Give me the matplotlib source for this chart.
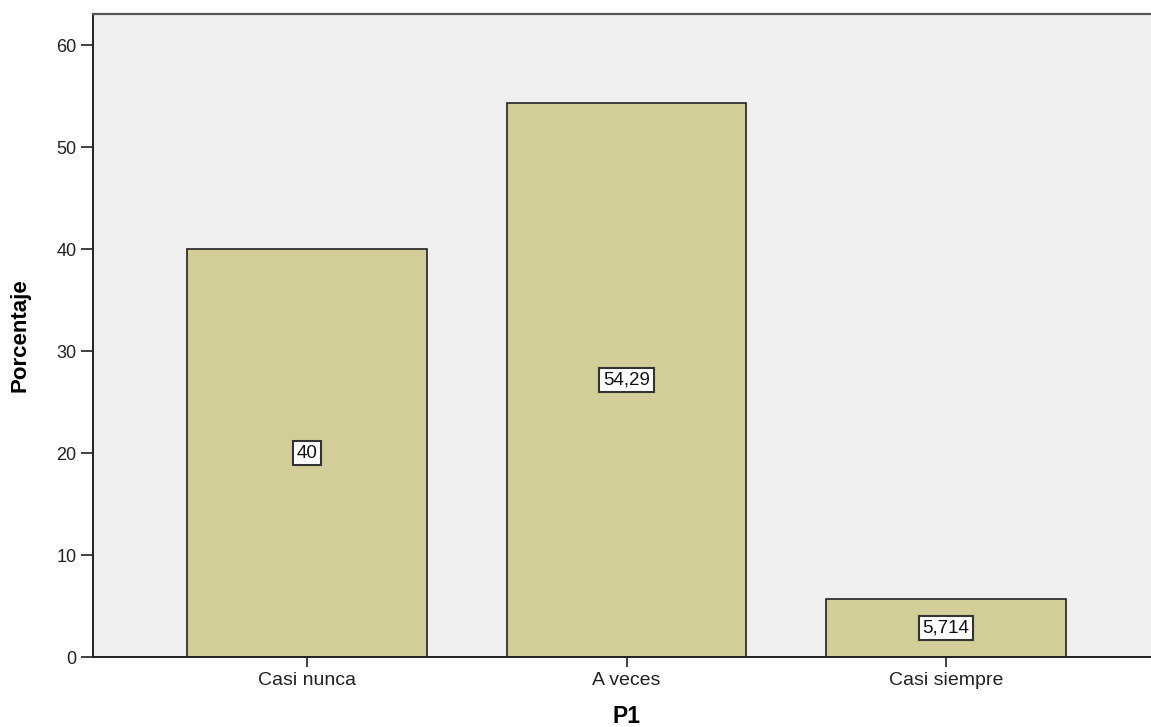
import matplotlib.pyplot as plt

plt.rcParams['font.family'] = ['Liberation Sans', 'DejaVu Sans']

categories = ['Casi nunca', 'A veces', 'Casi siempre']
values = [40.0, 54.29, 5.714]
value_labels = ['40', '54,29', '5,714']

fig = plt.figure(figsize=(11.51, 7.27), dpi=100)
# axes run past the right edge of the picture, as in the source
ax = fig.add_axes([93 / 1151, 1 - 657 / 727, (1160 - 93) / 1151, (657 - 14) / 727])
ax.set_facecolor('#EFEFEF')

x = range(len(categories))
ax.bar(x, values, width=0.75, color='#D3CE97', edgecolor='#222222', linewidth=1.2, zorder=2)

for xi, v, lab in zip(x, values, value_labels):
    ax.text(xi, v / 2, lab, ha='center', va='center', fontsize=13.5, color='#111111', zorder=3,
            bbox=dict(boxstyle='square,pad=0.2', facecolor='white', edgecolor='#333333', linewidth=1.5))

ax.set_xlim(-0.67, 2.67)
ax.set_ylim(0, 63.05)
ax.set_yticks([0, 10, 20, 30, 40, 50, 60])
ax.set_xticks(list(x))
ax.set_xticklabels(categories)
ax.tick_params(axis='y', direction='out', length=9, width=1.3, color='#333333',
               labelsize=13, labelcolor='#222222', pad=3)
ax.tick_params(axis='x', direction='out', length=7, width=1.3, color='#333333',
               labelsize=14, labelcolor='#222222', pad=4)

for side in ['left', 'bottom']:
    ax.spines[side].set_color('#222222')
    ax.spines[side].set_linewidth(1.4)
ax.spines['top'].set_color('#555555')
ax.spines['top'].set_linewidth(1.6)
ax.spines['right'].set_visible(False)

ax.set_ylabel('Porcentaje', fontsize=16, fontweight='bold', va='center')
ax.yaxis.set_label_coords(-0.0684, 0.5)
ax.set_xlabel('P1', fontsize=16.5, fontweight='bold', va='center')
ax.xaxis.set_label_coords(0.5, -0.092)

fig.savefig('out.png', dpi=100)
